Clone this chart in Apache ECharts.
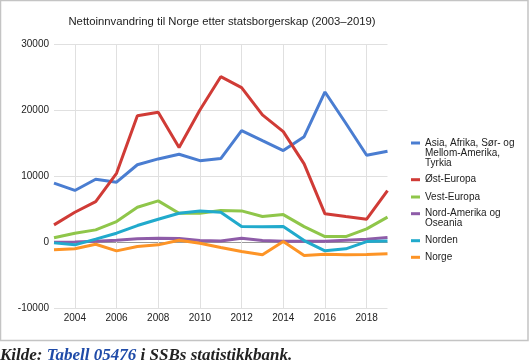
<!DOCTYPE html>
<html>
<head>
<meta charset="utf-8">
<script src="https://cdn.jsdelivr.net/npm/echarts@6/dist/echarts.min.js"></script>
<style>html,body{margin:0;padding:0;background:#fff}#c{width:529px;height:364px}</style>
</head>
<body>
<div id="c"></div>
<script>
const years = ['2003','2004','2005','2006','2007','2008','2009','2010','2011','2012','2013','2014','2015','2016','2017','2018','2019'];
const yTicks = [-10000, 0, 10000, 20000, 30000];
const seriesNames = ['Asia, Afrika, Sør- og Mellom-Amerika, Tyrkia', 'Øst-Europa', 'Vest-Europa', 'Nord-Amerika og Oseania', 'Norden', 'Norge'];
const legendLabels = ['Asia, Afrika, Sør- og\nMellom-Amerika,\nTyrkia', 'Øst-Europa', 'Vest-Europa', 'Nord-Amerika og\nOseania', 'Norden', 'Norge'];
const asia = [9000, 7900, 9600, 9150, 11800, 12680, 13390, 12420, 12730, 16970, 15450, 13940, 16060, 22830, 18090, 13240, 13850];
const ostEuropa = [2680, 4600, 6210, 10500, 19240, 19750, 14400, 20100, 25150, 23490, 19350, 16820, 11920, 4350, 3940, 3540, 7880];
const vestEuropa = [720, 1420, 1920, 3180, 5360, 6320, 4450, 4450, 4850, 4800, 3940, 4240, 2420, 910, 910, 2080, 3850];
const nordAmerika = [50, 100, 200, 360, 560, 660, 600, 300, 250, 660, 300, 200, 200, 200, 360, 500, 760];
const norden = [-50, -350, 520, 1420, 2580, 3540, 4450, 4800, 4600, 2420, 2380, 2420, 300, -1260, -950, 150, 250];
const norge = [-1100, -950, -250, -1260, -600, -350, 360, -100, -750, -1360, -1860, 150, -1970, -1760, -1860, -1810, -1710];
const allData = [asia, ostEuropa, vestEuropa, nordAmerika, norden, norge];

const colors = ['#4a7dd1', '#d03b36', '#8fc64a', '#8e5ca8', '#21aacc', '#fd9426'];
const legendIconY = [143, 179.7, 197, 213.7, 240.7, 257.3];

const chart = echarts.init(document.getElementById('c'), null, {renderer: 'canvas'});
const font = 'Liberation Sans, Arial, sans-serif';

const legends = seriesNames.map((name, i) => {
  const lines = legendLabels[i].split('\n').length;
  const pad = (lines - 1) * 10;
  const label = '\n'.repeat(lines - 1) + legendLabels[i];
  return {
    data: [name],
    formatter: () => label,
    orient: 'vertical',
    left: 411,
    top: legendIconY[i] - 5 - pad,
    padding: 0,
    icon: 'rect',
    itemWidth: 9,
    itemHeight: 3,
    selectedMode: false,
    textStyle: {fontSize: 10, lineHeight: 10, color: '#222', fontFamily: font}
  };
});

chart.setOption({
  animation: false,
  color: colors,
  title: [{
    text: 'Nettoinnvandring til Norge etter statsborgerskap (2003–2019)',
    left: 222, top: 16, textAlign: 'center', padding: 0,
    textStyle: {fontSize: 11.3, fontWeight: 'normal', color: '#222', fontFamily: font}
  }, {
    text: '{a|Kilde: }{b|Tabell 05476}{a| i SSBs statistikkbank.}',
    left: 0, top: 347, padding: 0,
    textStyle: {
      rich: {
        a: {fontSize: 17, lineHeight: 17, fontStyle: 'italic', color: '#222', fontFamily: 'Liberation Serif, serif'},
        b: {fontSize: 17, lineHeight: 17, fontStyle: 'italic', color: '#1f4ba8', fontFamily: 'Liberation Serif, serif'}
      }
    }
  }],
  legend: legends,
  grid: {left: 54, right: 141.5, top: 44.7, bottom: 55.5, containLabel: false},
  xAxis: {
    type: 'category',
    data: years,
    boundaryGap: false,
    axisLine: {show: false},
    axisTick: {show: false},
    axisLabel: {interval: (idx) => idx % 2 === 1, margin: 5, fontSize: 10, color: '#222', fontFamily: font},
    splitLine: {show: true, interval: (idx) => idx % 2 === 1, lineStyle: {color: '#e0e0e0', width: 1}}
  },
  yAxis: {
    type: 'value',
    min: yTicks[0], max: yTicks[yTicks.length - 1], interval: 10000,
    axisLine: {show: false},
    axisTick: {show: false},
    axisLabel: {margin: 5, fontSize: 10, color: '#222', fontFamily: font, formatter: (v) => String(v)},
    splitLine: {show: true, lineStyle: {color: ['#e0e0e0', '#9a9a9a', '#e0e0e0', '#e0e0e0', '#e0e0e0'], width: 1}}
  },
  series: seriesNames.map((name, i) => ({
    name: name,
    type: 'line',
    data: allData[i],
    symbol: 'none',
    smooth: false,
    lineStyle: {width: 3, color: colors[i]},
    itemStyle: {color: colors[i]}
  })),
  graphic: [{
    type: 'rect',
    shape: {x: 0.5, y: 0.5, width: 527.5, height: 340},
    style: {fill: null, stroke: '#c4c4c4', lineWidth: 1.5},
    silent: true
  }]
});
</script>
</body>
</html>
